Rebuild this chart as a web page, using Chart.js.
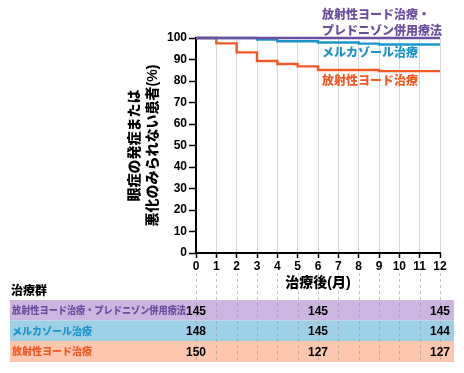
<!DOCTYPE html>
<html>
<head>
<meta charset="utf-8">
<script src="https://cdn.jsdelivr.net/npm/chart.js@4.4.1/dist/chart.umd.min.js"></script>
<style>
  body { margin: 0; background: #fff; }
  #wrap { width: 464px; height: 373px; }
</style>
</head>
<body>
<div id="wrap"><canvas id="myChart" width="464" height="373"></canvas></div>
<script>
// 経過月と生存曲線の値
var months = [0, 1, 2, 3, 4, 5, 6, 7, 8, 9, 10, 11, 12];
var seriesNames = ['放射性ヨード治療・プレドニゾン併用療法', 'メルカゾール治療', '放射性ヨード治療'];

var comboX = [0, 12];
var comboY = [100, 100];
var methiX = [0, 3, 4, 6, 8, 9, 12];
var methiY = [100, 99.3, 98.5, 97.9, 97.4, 97.0, 97.0];
var rxX = [0, 1, 2, 3, 4, 5, 6, 9, 12];
var rxY = [100, 97.5, 93.3, 89.3, 87.9, 86.8, 85.1, 84.6, 84.6];

// リスク表（治療群ごとの患者数）
var riskMonths = [0, 6, 12];
var riskCombo = [145, 145, 145];
var riskMethi = [148, 145, 144];
var riskRx = [150, 127, 127];

var colors = ['#6b4f9e', '#1b95c8', '#f15a24'];
var bandColors = ['#ccb5df', '#9dcfe5', '#fdc6ae'];
var numFont = "'Liberation Sans', 'Noto Sans CJK JP', sans-serif";

function toPoints(xs, ys) {
	var pts = [];
	for (var i in xs) {
		pts.push({x: xs[i], y: ys[i]});
	}
	return pts;
}

var tablePlugin = {
	id: 'riskTable',
	afterDraw: function(chart) {
		var ctx = chart.ctx;
		var xs = chart.scales.x;
		var ys = chart.scales.y;
		var rowTop = [300, 320.5, 341];
		var rowH = [20.5, 20.5, 21];
		var counts = [riskCombo, riskMethi, riskRx];
		ctx.save();

		// 曲線ラベル
		ctx.font = "900 12px " + numFont;
		ctx.textAlign = 'left';
		ctx.textBaseline = 'middle';
		var lx = xs.getPixelForValue(6.2);
		ctx.fillStyle = colors[0];
		ctx.fillText('放射性ヨード治療・', lx, ys.getPixelForValue(110.6));
		ctx.fillText('プレドニゾン併用療法', lx, ys.getPixelForValue(102.9));
		ctx.fillStyle = colors[1];
		ctx.fillText(seriesNames[1], lx, ys.getPixelForValue(92.6));
		ctx.fillStyle = colors[2];
		ctx.fillText(seriesNames[2], lx, ys.getPixelForValue(79.8));

		// 色帯
		for (var r = 0; r < 3; r++) {
			ctx.fillStyle = bandColors[r];
			ctx.fillRect(10, rowTop[r], 444, rowH[r]);
		}

		// 破線
		ctx.strokeStyle = 'rgba(150,150,150,0.55)';
		ctx.lineWidth = 1;
		ctx.setLineDash([3, 3]);
		for (var m in months) {
			var px = Math.round(xs.getPixelForValue(months[m])) + 0.5;
			ctx.beginPath();
			ctx.moveTo(px, 273);
			ctx.lineTo(px, 362);
			ctx.stroke();
		}
		ctx.setLineDash([]);

		// 見出し
		ctx.fillStyle = '#000';
		ctx.font = "900 12px " + numFont;
		ctx.fillText('治療群', 11, 292);

		for (var r = 0; r < 3; r++) {
			var cy = rowTop[r] + rowH[r] / 2 + 1;
			ctx.textAlign = 'left';
			ctx.fillStyle = colors[r];
			ctx.font = "900 10px " + numFont;
			ctx.fillText(seriesNames[r], 12, cy, 174);
			ctx.textAlign = 'center';
			ctx.fillStyle = '#000';
			ctx.font = "bold 12px " + numFont;
			for (var k in riskMonths) {
				ctx.fillText(String(counts[r][k]), xs.getPixelForValue(riskMonths[k]), cy);
			}
		}
		ctx.restore();
	}
};

var ctx = document.getElementById("myChart");
var myChart = new Chart(ctx, {
	type: 'line',
	data: {
		datasets: [{
			label: seriesNames[0],
			data: toPoints(comboX, comboY),
			borderColor: colors[0],
			borderWidth: 2.4,
			stepped: 'before',
			pointRadius: 0,
			clip: false,
			order: 0
		}, {
			label: seriesNames[1],
			data: toPoints(methiX, methiY),
			borderColor: colors[1],
			borderWidth: 2.4,
			stepped: 'before',
			pointRadius: 0,
			clip: false,
			order: 1
		}, {
			label: seriesNames[2],
			data: toPoints(rxX, rxY),
			borderColor: colors[2],
			borderWidth: 2.4,
			stepped: 'before',
			pointRadius: 0,
			clip: false,
			order: 2
		}]
	},
	options: {
		responsive: false,
		animation: false,
		layout: { padding: { left: 0, top: 38, right: 24, bottom: 80 } },
		plugins: {
			legend: { display: false },
			tooltip: { enabled: false }
		},
		scales: {
			x: {
				type: 'linear',
				min: 0,
				max: 12,
				afterFit: function(scale) { scale.height = 40; },
				ticks: {
					stepSize: 1,
					autoSkip: false,
					maxRotation: 0,
					padding: 1,
					color: '#000',
					font: { family: numFont, size: 12, weight: 'bold' }
				},
				grid: {
					color: '#d8d8d8',
					lineWidth: 1,
					tickColor: '#000',
					tickWidth: 1.5,
					tickLength: 5
				},
				border: { color: '#000', width: 2 },
				title: {
					display: true,
					text: '治療後(月)',
					color: '#000',
					padding: { top: 0, bottom: 1 },
					font: { family: numFont, size: 14, weight: '900' }
				}
			},
			y: {
				min: 0,
				max: 100,
				afterFit: function(scale) { scale.width = 196; },
				ticks: {
					stepSize: 10,
					padding: 2,
					color: '#000',
					font: { family: numFont, size: 12, weight: 'bold' }
				},
				grid: {
					drawOnChartArea: false,
					tickColor: '#000',
					tickWidth: 1.5,
					tickLength: 7
				},
				border: { color: '#000', width: 2 },
				title: {
					display: true,
					text: ['眼症の発症または', '悪化のみられない患者(%)'],
					color: '#000',
					padding: { top: 126, bottom: 0 },
					font: { family: numFont, size: 14, weight: '900', lineHeight: 1.3 }
				}
			}
		}
	},
	plugins: [tablePlugin]
});
</script>
</body>
</html>
